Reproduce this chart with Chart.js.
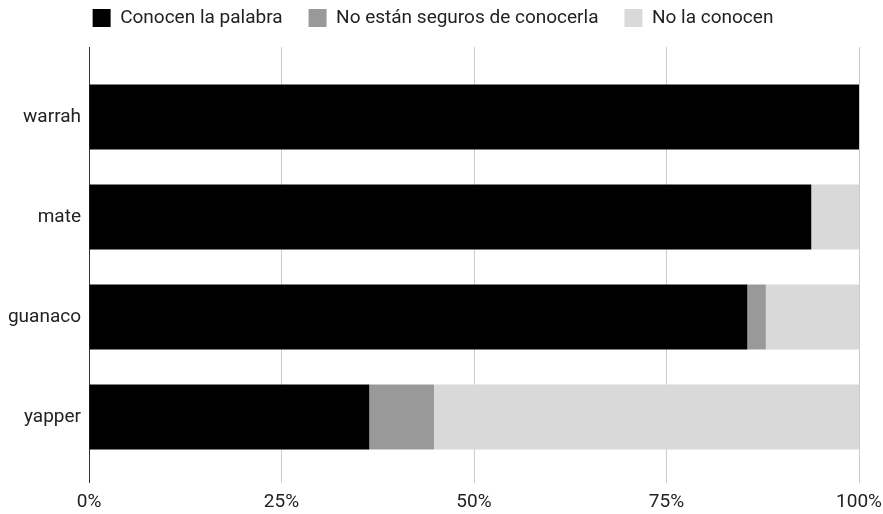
<!DOCTYPE html>
<html lang="es">
<head>
    <meta charset="UTF-8">
    <title>Conocimiento de palabras</title>
    <script src="https://cdn.jsdelivr.net/npm/chart.js"></script>
    <style>
        body { margin: 0; background: #fff; }
        #wrap { width: 883px; height: 514px; }
    </style>
</head>
<body>
    <div id="wrap">
        <canvas id="wordsChart"></canvas>
    </div>

    <script>
        // Categories and percentages
        const words = ['warrah', 'mate', 'guanaco', 'yapper'];
        const known = [100, 93.8, 85.5, 36.4];
        const unsure = [0, 0, 2.4, 8.4];
        const unknown = [0, 6.2, 12.1, 55.2];
        const tickValues = [0, 25, 50, 75, 100];

        const gridColor = (c) => (c.tick && c.tick.value === 0) ? '#333333' : '#cccccc';
        const font = { family: 'Roboto', size: 19 };

        const ctx = document.getElementById('wordsChart').getContext('2d');
        new Chart(ctx, {
            type: 'bar',
            data: {
                labels: words,
                datasets: [{
                    label: 'Conocen la palabra',
                    data: known,
                    backgroundColor: '#000000'
                }, {
                    label: 'No están seguros de conocerla',
                    data: unsure,
                    backgroundColor: '#999999'
                }, {
                    label: 'No la conocen',
                    data: unknown,
                    backgroundColor: '#d9d9d9'
                }]
            },
            options: {
                indexAxis: 'y',
                responsive: true,
                maintainAspectRatio: false,
                animation: false,
                barPercentage: 0.65,
                categoryPercentage: 1,
                layout: {
                    padding: { top: -17.5, right: 24, bottom: 0, left: 7 }
                },
                plugins: {
                    tooltip: { enabled: false },
                    legend: {
                        position: 'top',
                        labels: {
                            boxWidth: 18,
                            boxHeight: 18,
                            padding: 26,
                            color: '#222222',
                            font: font
                        }
                    }
                },
                scales: {
                    x: {
                        type: 'linear',
                        stacked: true,
                        min: 0,
                        max: 100,
                        afterBuildTicks: (s) => { s.ticks = tickValues.map(v => ({ value: v })); },
                        afterFit: (s) => {
                            s.height = 47;
                            s.paddingLeft = 0;
                            s.paddingRight = 0;
                        },
                        grid: { color: gridColor, tickColor: gridColor, tickLength: 16 },
                        border: { display: false },
                        ticks: {
                            padding: 8,
                            color: '#222222',
                            font: font,
                            callback: (v) => v + '%'
                        }
                    },
                    // top axis only extends the gridlines above the bars
                    xTop: {
                        type: 'linear',
                        position: 'top',
                        min: 0,
                        max: 100,
                        afterBuildTicks: (s) => { s.ticks = tickValues.map(v => ({ value: v })); },
                        afterFit: (s) => { s.height = 29.5; },
                        grid: { drawOnChartArea: false, tickColor: gridColor, tickLength: 20 },
                        border: { display: false },
                        ticks: { display: false }
                    },
                    y: {
                        stacked: true,
                        afterFit: (s) => { s.width = 82; },
                        grid: { display: false, drawTicks: false },
                        border: { display: false },
                        ticks: {
                            padding: 8,
                            color: '#222222',
                            font: font
                        }
                    }
                }
            }
        });
    </script>
</body>
</html>
